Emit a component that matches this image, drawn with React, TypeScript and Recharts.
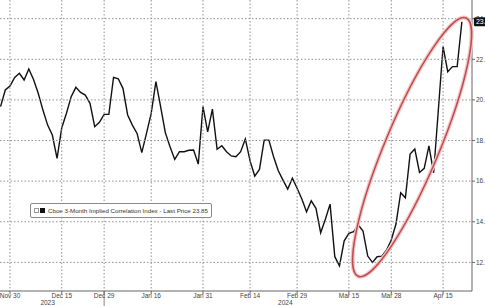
import { Line, LineChart, XAxis, YAxis } from "recharts";

// trading-day index of the first value (Nov 28, 2023); Nov 30 is index 0
const startIndex = -2;

const values = [
  19.67, 20.49, 20.68, 21.11, 21.31, 20.98, 21.52, 21.01, 20.33, 19.5,
  18.76, 18.27, 17.12, 18.63, 19.34, 20.16, 20.62, 20.37, 20.24, 19.83,
  18.68, 18.9, 19.29, 19.29, 21.11, 21.04, 20.57, 19.26, 18.76, 18.35,
  17.4, 18.35, 19.34, 20.9, 19.67, 18.39, 17.69, 17.07, 17.45, 17.45,
  17.52, 17.53, 16.84, 19.67, 18.43, 19.55, 17.57, 17.74, 17.45, 17.24,
  17.2, 17.45, 18.08, 17.0, 16.25, 16.58, 18.02, 18.02, 17.2, 16.51,
  16.05, 15.61, 16.14, 15.65, 15.12, 14.49, 15.03, 14.66, 13.46, 14.12,
  14.87, 12.28, 11.83, 13.06, 13.43, 13.51, 13.84, 13.54, 12.31, 12.0,
  12.28, 12.31, 12.61, 13.1, 13.89, 15.43, 15.18, 17.33, 17.58, 16.43,
  16.63, 17.74, 16.41, 19.5, 22.62, 21.39, 21.64, 21.64, 23.85,
];

const monthTicks = [0, 11, 20, 30, 41, 51, 61, 72, 81, 92];
const monthLabels = [
  "Nov 30", "Dec 15", "Dec 29", "Jan 16", "Jan 31",
  "Feb 14", "Feb 29", "Mar 15", "Mar 28", "Apr 15",
];
const yearTicks = [8, 58.5];
const yearLabels = ["2023", "2024"];
const yTicks = [12, 14, 16, 18, 20, 22, 24];

const seriesName = "Cboe 3-Month Implied Correlation Index - Last Price";
const lastPrice = values[values.length - 1];
// the ellipse is hung off this point of the rally (Apr 2)
const highlightIdx = 85;

const xDomain = [-2.12, 98.15];
const yDomain = [10.59, 24.92];

const data = values.map((value, i) => ({ idx: i + startIndex, value }));

const FONT = "'Liberation Sans', Arial, sans-serif";
const GRID = "#8f8f8f";
const PLOT_RIGHT = 472;

// month label plus its dotted vertical grid line
const monthTick = ({ x, y, payload }: any) => {
  const label = monthLabels[monthTicks.indexOf(payload.value)];
  return (
    <g>
      <line x1={x} x2={x} y1={0} y2={y - 3} stroke={GRID} strokeDasharray="1.5 2" />
      <text x={x} y={y + 4} textAnchor="middle" fontSize={6.5} fill="#444" fontFamily={FONT}>
        {label}
      </text>
      {label === "Dec 29" && (
        <line x1={x} x2={x} y1={y - 3} y2={y + 14} stroke="#666" strokeWidth={0.8} />
      )}
    </g>
  );
};

const yearTick = ({ x, y, payload }: any) => (
  <text x={x} y={y + 4} textAnchor="middle" fontSize={6.5} fill="#444" fontFamily={FONT}>
    {yearLabels[yearTicks.indexOf(payload.value)]}
  </text>
);

// value label plus its dotted horizontal grid line
const valueTick = ({ x, y, payload }: any) => (
  <g>
    <line x1={0} x2={PLOT_RIGHT} y1={y} y2={y} stroke={GRID} strokeDasharray="1.5 2" />
    <text x={x} y={y + 2.3} fontSize={6.5} fill="#444" fontFamily={FONT}>
      {payload.value.toFixed(2)}
    </text>
  </g>
);

// ellipse around the rally and the black last-price tag on the axis
function PointMarks({ x, y, index }: any) {
  const idx = index + startIndex;
  if (idx === highlightIdx) {
    const cx = x + 2;
    const cy = y - 7;
    return (
      <g transform={`rotate(-67.3 ${cx} ${cy})`}>
        <ellipse cx={cx} cy={cy} rx={140} ry={27} fill="none" stroke="#f0c8c8" strokeWidth={4} />
        <ellipse cx={cx} cy={cy} rx={140} ry={27} fill="none" stroke="#c24a4e" strokeWidth={1.5} />
      </g>
    );
  }
  if (index === values.length - 1) {
    return (
      <g>
        <rect x={x + 12} y={y - 4.5} width={22} height={9} rx={1.5} fill="#111" />
        <text x={x + 14} y={y + 2.5} fontSize={7} fill="#fff" fontFamily={FONT}>
          {lastPrice.toFixed(2)}
        </text>
      </g>
    );
  }
  return null;
}

export default function App() {
  return (
    <div style={{ position: "relative", width: 485, height: 306 }}>
      <style>{"body{margin:0}"}</style>
      <LineChart width={485} height={306} data={data} margin={{ top: 0, right: 0, bottom: 0, left: 0 }}>
        <XAxis
          dataKey="idx"
          type="number"
          domain={xDomain}
          allowDataOverflow
          ticks={monthTicks}
          interval={0}
          height={10}
          tickSize={3}
          tickMargin={0}
          tick={monthTick}
        />
        <XAxis
          xAxisId="year"
          dataKey="idx"
          type="number"
          domain={xDomain}
          ticks={yearTicks}
          interval={0}
          height={5}
          tickSize={0}
          tickMargin={0}
          axisLine={false}
          tick={yearTick}
        />
        <YAxis
          orientation="right"
          domain={yDomain}
          allowDataOverflow
          ticks={yTicks}
          interval={0}
          width={13}
          tickSize={3}
          tickMargin={1}
          tick={valueTick}
        />
        <Line
          dataKey="value"
          type="linear"
          stroke="#111"
          strokeWidth={1.4}
          dot={false}
          activeDot={false}
          label={<PointMarks />}
          isAnimationActive={false}
        />
      </LineChart>
      <div
        style={{
          position: "absolute",
          left: 30,
          top: 203,
          height: 13,
          padding: "0 3px",
          border: "1px solid #8a8a8a",
          borderRadius: 2,
          background: "#fff",
          display: "flex",
          alignItems: "center",
          gap: 1,
          fontFamily: FONT,
          fontSize: 6.2,
          color: "#333",
          whiteSpace: "nowrap",
        }}
      >
        <span style={{ width: 3, height: 3, border: "0.5px solid #999", display: "inline-block" }} />
        <span style={{ width: 5, height: 5, background: "#111", display: "inline-block", marginRight: 2 }} />
        <span>
          {seriesName} {lastPrice.toFixed(2)}
        </span>
      </div>
    </div>
  );
}
